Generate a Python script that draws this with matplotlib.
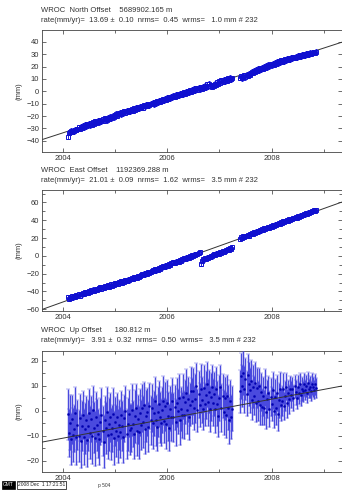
import numpy as np
import matplotlib
matplotlib.use("Agg")
import matplotlib.pyplot as plt
from matplotlib.ticker import MultipleLocator

plt.rcParams['font.family'] = ['Liberation Sans', 'DejaVu Sans']

# ---------------- data ----------------
# weekly-ish GPS epochs (decimal year): two spans with a data gap in 2007
SPAN1 = (2004.10, 2007.24)
SPAN2 = (2007.40, 2008.86)
STEP = 0.02

NORTH = [
 -36.5, -33.4, -32.9, -32.0, -32.6, -31.8, -32.3, -31.2, -31.0, -30.7,
 -29.1, -30.3, -28.6, -29.4, -27.8, -28.9, -27.1, -28.2, -26.6, -27.4,
 -26.3, -27.5, -25.8, -26.9, -25.1, -26.0, -24.3, -25.6, -24.8, -23.9,
 -24.9, -23.2, -24.1, -22.6, -23.8, -21.9, -22.7, -23.3, -21.4, -22.2,
 -20.4, -21.9, -20.8, -19.6, -20.9, -19.2, -18.3, -19.7, -18.6, -17.8,
 -17.2, -18.4, -16.9, -17.8, -16.1, -17.3, -15.8, -16.7, -15.2, -16.0,
 -15.1, -14.3, -15.6, -13.8, -14.7, -13.2, -14.1, -12.9, -13.6, -12.4,
 -12.8, -11.9, -13.1, -11.4, -12.2, -10.8, -11.6, -10.3, -11.1, -9.9,
 -10.2, -9.1, -10.5, -8.7, -9.6, -8.2, -9.0, -7.6, -8.4, -7.3,
 -7.8, -6.6, -7.4, -5.9, -6.8, -5.2, -6.1, -4.8, -5.7, -4.4,
 -4.9, -3.7, -4.6, -2.9, -3.8, -2.4, -3.3, -1.9, -2.8, -1.6,
 -2.2, -0.9, -1.8, -0.4, -1.3, 0.2, -0.7, 0.9, -0.2, 1.3,
 0.6, 1.9, 0.8, 2.4, 1.2, 2.9, 1.7, 3.4, 2.2, 3.8,
 2.7, 4.4, 3.1, 5.6, 3.9, 6.3, 4.5, 5.1, 3.8, 4.9,
 4.6, 6.2, 5.1, 7.4, 6.0, 8.3, 6.9, 8.8, 7.5, 9.3,
 8.1, 9.6, 8.7, 10.4, 9.3, 11.0, 9.8, 10.7,
 10.9, 12.1, 10.6, 11.8, 12.9, 11.5, 13.4, 12.6, 14.2, 13.5,
 14.6, 15.9, 15.1, 16.7, 15.8, 17.4, 16.5, 18.1, 17.0, 18.6,
 17.7, 19.2, 18.4, 20.0, 19.1, 20.7, 19.6, 21.3, 20.2, 21.8,
 21.0, 22.4, 21.6, 23.1, 22.3, 23.9, 22.8, 24.4, 23.5, 24.9,
 23.8, 25.2, 24.4, 25.8, 24.9, 26.3, 25.4, 26.8, 25.9, 27.2,
 26.5, 27.6, 26.9, 28.1, 27.4, 28.6, 27.8, 29.0, 28.3, 29.4,
 28.8, 29.9, 29.2, 30.3, 29.6, 30.7, 30.1, 31.0, 30.4, 31.2,
 31.0, 31.6, 31.3, 31.9]

EAST = [
 -46.2, -48.4, -46.9, -47.3, -45.6, -46.8, -45.1, -46.0, -44.4, -45.3,
 -43.1, -44.6, -42.5, -43.4, -41.8, -42.9, -41.2, -42.0, -40.5, -41.4,
 -39.6, -40.9, -38.7, -39.8, -37.9, -39.1, -38.3, -37.0, -38.6, -36.8,
 -36.5, -35.3, -37.0, -34.9, -35.8, -33.9, -35.2, -34.4, -33.1, -34.6,
 -33.5, -32.2, -33.9, -31.7, -32.8, -30.9, -32.0, -30.4, -31.5, -29.8,
 -29.9, -28.7, -30.1, -27.9, -29.0, -27.3, -28.4, -26.6, -27.7, -26.2,
 -26.1, -24.9, -26.3, -24.2, -25.0, -23.4, -24.6, -22.8, -23.9, -22.3,
 -22.0, -20.7, -21.8, -19.9, -20.9, -19.0, -20.2, -18.4, -19.3, -17.8,
 -17.4, -16.2, -17.1, -15.3, -16.4, -14.6, -15.5, -13.9, -14.8, -13.1,
 -13.0, -11.8, -12.7, -10.9, -11.9, -10.1, -11.0, -9.3, -10.2, -8.6,
 -8.4, -7.3, -8.1, -6.4, -7.2, -5.5, -6.4, -4.8, -5.6, -4.0,
 -4.1, -2.9, -3.8, -2.0, -2.9, -1.1, -2.0, -0.3, -1.2, 0.4,
 0.3, 1.5, 0.9, 2.4, 1.7, 3.6, 4.2, -9.2, -5.4, -4.1,
 -4.1, -2.9, -3.3, -2.0, -2.5, -1.0, -1.6, 0.0, -0.7, 0.8,
 1.6, 0.7, 2.5, 1.8, 3.3, 2.6, 4.1, 3.4, 5.0, 4.4,
 5.8, 6.9, 6.3, 7.7, 7.1, 8.6, 8.0, 9.4,
 18.6, 21.4, 20.2, 21.9, 21.0, 22.7, 22.1, 23.5, 22.8, 24.3,
 24.2, 25.6, 24.9, 26.5, 25.8, 27.3, 26.6, 28.0, 27.4, 28.9,
 28.6, 30.1, 29.4, 30.9, 30.3, 31.6, 31.0, 32.5, 31.8, 33.2,
 32.9, 34.4, 33.8, 35.1, 34.6, 36.0, 35.4, 36.8, 36.2, 37.5,
 37.3, 38.6, 38.0, 39.4, 38.8, 40.2, 39.6, 41.0, 40.3, 41.7,
 41.5, 42.9, 42.3, 43.7, 43.0, 44.5, 43.9, 45.2, 44.6, 46.0,
 45.8, 47.1, 46.6, 47.9, 47.3, 48.7, 48.1, 49.4, 48.9, 50.1,
 50.4, 51.3, 50.9, 51.8]

UP = [
 -1.4, -8.9, -4.7, -11.2, -3.4, -9.7, -7.1, -1.0, -10.6, -5.7,
 -10.1, -2.8, -12.0, -6.1, -1.6, -10.4, -7.2, -3.7, -11.8, -5.9,
 -0.9, -8.8, -3.1, -10.2, 0.2, -6.7, -10.9, -2.4, -5.5, -9.1,
 -11.4, -4.3, -1.6, -8.1, -12.3, -3.5, -7.0, -0.5, -9.8, -5.4,
 -2.6, -9.2, -7.0, -1.1, -10.9, -4.3, -8.0, -2.3, -10.0, -5.8,
 -8.6, -1.6, -6.0, -10.3, -2.9, -0.2, -9.3, -5.4, -1.1, -7.5,
 -6.9, 0.5, -5.4, -9.4, -2.1, 1.3, -7.9, -3.3, -8.6, -0.7,
 -5.6, 1.1, -4.4, 2.3, -7.3, -2.0, -0.4, -6.4, 1.9, -3.7,
 1.3, -4.9, -1.0, 3.8, -3.8, -6.5, -0.5, 2.6, -2.6, -4.7,
 0.4, 4.1, -3.9, 1.8, -5.2, 3.2, -2.1, -6.7, 0.9, -2.3,
 3.8, -2.6, 1.4, -4.6, 3.2, -0.2, 5.2, -3.8, 0.8, -1.6,
 5.6, -1.5, 3.5, 7.3, 0.4, 4.6, -2.6, 2.5, 7.9, 3.9,
 7.8, 1.2, 4.9, 9.9, 0.3, 6.6, 2.4, 8.8, 4.2, 0.9,
 9.0, 2.6, 6.5, 10.6, 3.5, 7.7, 0.9, 5.5, 9.6, 3.3,
 6.8, 0.6, 8.9, 2.9, -1.9, 5.1, 9.5, 1.2, 6.0, -0.6,
 5.0, -1.8, 5.9, 1.3, -3.8, 3.9, -2.4, 0.9,
 7.9, 13.9, 10.0, 15.2, 8.6, 12.7, 6.8, 14.5, 10.8, 8.2,
 12.0, 4.5, 9.7, 6.0, 11.3, 3.2, 9.1, 4.0, 9.8, 2.4,
 7.6, 1.5, 5.9, 1.3, 9.4, -0.4, 4.7, 7.3, 0.7, 5.6,
 2.7, 8.2, -0.2, 5.5, 1.0, 7.2, -1.4, 4.2, 8.6, 2.4,
 3.9, 8.9, 1.8, 6.1, 9.6, 3.0, 7.0, 4.6, 8.9, 6.5,
 8.9, 5.2, 9.8, 7.4, 5.0, 9.5, 7.1, 10.6, 6.2, 8.8,
 7.9, 10.6, 8.3, 10.1, 7.2, 11.0, 8.9, 9.6, 7.8, 10.7,
 9.5, 8.4, 10.6, 9.3]

UP_SIG = [
 10.1, 9.6, 11.0, 10.4, 9.8, 10.9, 9.3, 10.6, 11.2, 9.9,
 10.5, 9.4, 10.8, 10.0, 9.7, 11.1, 10.2, 9.5, 10.7, 10.3,
 9.8, 10.6, 9.2, 10.9, 9.6, 10.3, 11.0, 9.9, 10.4, 9.7,
 10.2, 9.5, 10.8, 9.9, 10.6, 9.3, 10.4, 10.0, 9.6, 10.7,
 9.9, 10.5, 9.4, 10.1, 10.8, 9.7, 10.3, 9.6, 10.9, 10.0,
 10.3, 9.6, 10.0, 10.7, 9.4, 10.2, 9.9, 10.5, 9.3, 10.1,
 9.7, 10.4, 9.2, 10.0, 10.6, 9.5, 10.2, 9.8, 10.5, 9.4,
 10.0, 9.5, 10.3, 9.1, 9.9, 10.4, 9.6, 10.1, 9.3, 9.8,
 9.6, 10.2, 9.0, 9.8, 10.3, 9.4, 9.9, 9.2, 10.1, 9.5,
 9.3, 9.9, 9.1, 9.7, 10.0, 9.2, 9.8, 9.4, 9.0, 9.6,
 9.2, 9.7, 8.9, 9.5, 9.8, 9.0, 9.4, 9.9, 8.8, 9.3,
 9.0, 9.6, 8.7, 9.3, 9.7, 8.9, 9.2, 8.6, 9.5, 9.1,
 9.4, 8.8, 9.7, 9.1, 8.6, 9.5, 8.9, 9.8, 9.2, 8.7,
 9.3, 8.7, 9.6, 9.0, 9.4, 8.5, 9.2, 9.7, 8.9, 9.3,
 8.8, 9.4, 8.6, 9.1, 8.4, 9.2, 8.9, 9.5, 8.7, 9.0,
 8.6, 9.2, 8.4, 8.9, 9.3, 8.5, 8.8, 9.1,
 8.6, 9.2, 8.3, 8.9, 9.4, 8.5, 9.0, 8.2, 8.8, 9.1,
 8.4, 8.0, 8.7, 7.8, 8.3, 7.6, 8.1, 7.9, 7.5, 8.2,
 7.6, 7.1, 7.8, 6.9, 7.4, 7.0, 7.7, 6.8, 7.3, 7.5,
 6.9, 7.3, 6.6, 7.1, 6.7, 7.2, 6.5, 6.9, 7.0, 6.4,
 5.9, 6.3, 5.6, 6.0, 5.4, 5.8, 5.2, 5.7, 5.1, 5.5,
 4.8, 5.2, 4.6, 5.0, 4.4, 4.9, 4.5, 4.7, 4.3, 4.8,
 4.2, 4.6, 4.0, 4.4, 4.1, 4.5, 3.9, 4.3, 4.0, 4.4,
 4.1, 3.8, 4.3, 4.0]

NORTH_SIG = 2.0   # typical 1-sigma (mm)
EAST_SIG = 2.4

COMPONENTS = ["North", "East", "Up"]
OFFSETS = ["5689902.165", "1192369.288", "  180.812"]
RATES = [13.69, 21.01, 3.91]
RATE_ERR = [0.10, 0.09, 0.32]
NRMS = [0.45, 1.62, 0.50]
WRMS = [1.0, 3.5, 3.5]
N_OBS = 232
ZERO_EPOCH = [2006.45, 2006.47, 2006.80]   # epoch where fitted line crosses 0

XLIM = (2003.60, 2009.34)
YLIMS = [(-49, 49.5), (-62, 74), (-24.5, 24)]
YMAJOR = [10, 20, 10]
YMINOR = [10, 10, 5]
XTICKS = [2004, 2006, 2008]

# ---------------- plot ----------------
W, H = 342, 493
fig = plt.figure(figsize=(W / 100, H / 100), dpi=100)

t1 = np.arange(SPAN1[0], SPAN1[1] + 1e-6, STEP)
t2 = np.arange(SPAN2[0], SPAN2[1] + 1e-6, STEP)
T = np.concatenate([t1, t2])

series = [np.array(NORTH), np.array(EAST), np.array(UP)]
sigmas = [np.full(len(T), NORTH_SIG), np.full(len(T), EAST_SIG), np.array(UP_SIG)]

boxes = [(30, 152), (190, 311), (351, 472)]
left_px, right_px = 42, 341.5
title_y = [(10, 20), (170, 180), (330, 340)]
fs = 5.5
tc = '#333333'

for k in range(3):
    top, bot = boxes[k]
    ax = fig.add_axes([left_px / W, 1 - bot / H, (right_px - left_px) / W, (bot - top) / H])
    y = series[k]
    s = sigmas[k]
    if k < 2:
        ax.errorbar(T, y, yerr=s, fmt='s', ms=3.4, mfc='none', mec='#1010d0', mew=0.7,
                    ecolor='#2020e0', elinewidth=0.7, capsize=1.0, capthick=0.6, zorder=3)
        lz = 2
    else:
        ax.errorbar(T, y, yerr=s, fmt='o', ms=1.5, mfc='#0000b0', mec='#0000b0', mew=0.3,
                    ecolor='#4a4ade', elinewidth=1.05, capsize=1.2, capthick=0.5, zorder=3)
        lz = 4
    xl = np.array(XLIM)
    ax.plot(xl, RATES[k] * (xl - ZERO_EPOCH[k]), color='#333333', lw=0.7, zorder=lz)
    ax.set_xlim(*XLIM)
    ax.set_ylim(*YLIMS[k])
    ax.set_xticks(XTICKS)
    ax.xaxis.set_minor_locator(MultipleLocator(1))
    ax.yaxis.set_major_locator(MultipleLocator(YMAJOR[k]))
    ax.yaxis.set_minor_locator(MultipleLocator(YMINOR[k]))
    ax.tick_params(which='both', direction='in', top=True, right=True, width=0.5,
                   labelsize=fs, colors=tc, pad=2)
    ax.tick_params(which='major', length=3)
    ax.tick_params(which='minor', length=2.5)
    ax.set_ylabel('(mm)', fontsize=fs, color=tc, labelpad=3)
    for sp in ax.spines.values():
        sp.set_linewidth(0.6)
        sp.set_color('#444444')

    ty1, ty2 = title_y[k]
    fig.text(41 / W, 1 - ty1 / H,
             f"WROC  {COMPONENTS[k]} Offset    {OFFSETS[k]} m",
             fontsize=fs, va='center', ha='left', color=tc)
    fig.text(41 / W, 1 - ty2 / H,
             f"rate(mm/yr)=  {RATES[k]:5.2f} \u00b1  {RATE_ERR[k]:4.2f}  nrms=  {NRMS[k]:4.2f}"
             f"  wrms=   {WRMS[k]:3.1f} mm # {N_OBS}",
             fontsize=fs, va='center', ha='left', color=tc)

# GMT timestamp footer
fig.text(3 / W, 1 - 485 / H, "GMT", fontsize=3.5, color='white', va='center', ha='left',
         bbox=dict(boxstyle='square,pad=0.25', fc='black', ec='black', lw=0.5))
fig.text(18 / W, 1 - 485 / H, "2008 Dec  1 17:21:51", fontsize=3.5, color='#222222',
         va='center', ha='left',
         bbox=dict(boxstyle='square,pad=0.25', fc='white', ec='black', lw=0.5))
fig.text(98 / W, 1 - 485 / H, "p 504", fontsize=3.5, color=tc, va='center', ha='left')

fig.savefig('out.png', dpi=100, facecolor='white')
